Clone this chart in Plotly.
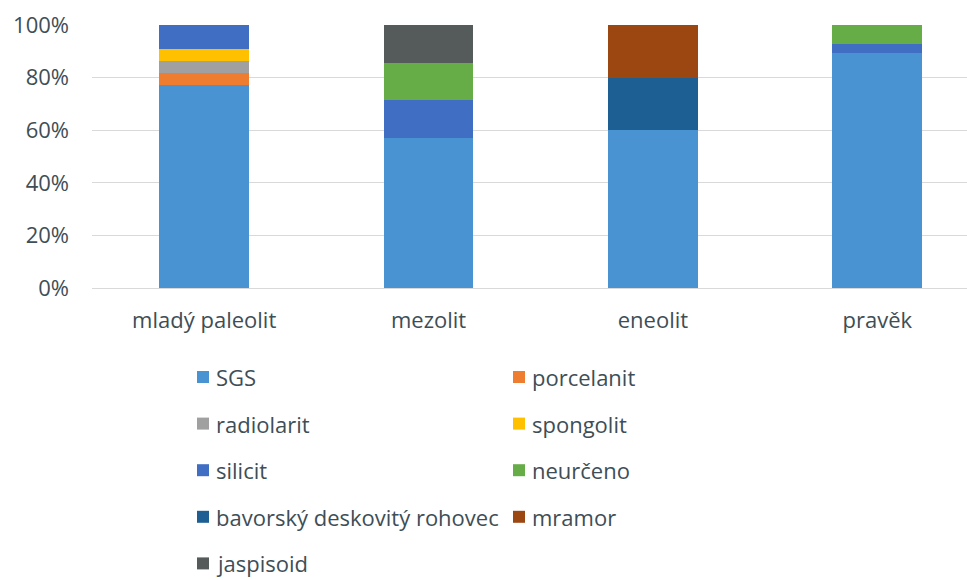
import plotly.graph_objects as go

# Stacked shares of raw-material groups per period
periods = ["mladý paleolit", "mezolit", "eneolit", "pravěk"]

series_names = [
    "SGS", "porcelanit", "radiolarit", "spongolit", "silicit",
    "neurčeno", "bavorský deskovitý rohovec", "mramor", "jaspisoid",
]

# values as fractions of each period's total
sgs = [0.773, 0.571, 0.60, 0.893]
porcelanit = [0.045, 0.0, 0.0, 0.0]
radiolarit = [0.045, 0.0, 0.0, 0.0]
spongolit = [0.045, 0.0, 0.0, 0.0]
silicit = [0.092, 0.143, 0.0, 0.036]
neurceno = [0.0, 0.143, 0.0, 0.071]
bavorsky = [0.0, 0.0, 0.20, 0.0]
mramor = [0.0, 0.0, 0.20, 0.0]
jaspisoid = [0.0, 0.143, 0.0, 0.0]

series_values = [sgs, porcelanit, radiolarit, spongolit, silicit,
                 neurceno, bavorsky, mramor, jaspisoid]

colors = ["#4a93d3", "#ee7d2f", "#a0a0a0", "#ffc000", "#3f6ec2",
          "#66ad48", "#1d5e93", "#9c4712", "#555b5b"]

y_ticks = [0, 0.2, 0.4, 0.6, 0.8, 1.0]
y_tick_labels = ["0%", "20%", "40%", "60%", "80%", "100%"]

W, H = 967, 580
ML, MR, MT, MB = 92, 0, 25, 292
PW, PH = W - ML - MR, H - MT - MB
TEXT = "#3e4e56"
FONT = "Open Sans"
FS = 22
WEIGHT = 500

fig = go.Figure()
for name, vals, col in zip(series_names, series_values, colors):
    fig.add_trace(go.Bar(
        x=periods, y=vals, name=name, marker_color=col,
        marker_line_width=0, showlegend=False,
    ))


def px_x(px):
    return (px - ML) / PW


def px_y(py):
    return (H - MB - py) / PH


# two-column legend below the plot
shapes = []
annotations = []
sq = 12
for i, (name, col) in enumerate(zip(series_names, colors)):
    c, r = i % 2, i // 2
    x0 = 197 + c * 316
    yc = 377 + r * 46.6
    shapes.append(dict(
        type="rect", xref="paper", yref="paper",
        x0=px_x(x0), x1=px_x(x0 + sq),
        y0=px_y(yc + sq / 2), y1=px_y(yc - sq / 2),
        fillcolor=col, line_width=0,
    ))
    annotations.append(dict(
        xref="paper", yref="paper", x=px_x(x0 + sq + 6), y=px_y(yc),
        xanchor="left", yanchor="middle", text=name, showarrow=False,
        borderpad=0,
        font=dict(family=FONT, size=FS, color=TEXT, weight=WEIGHT),
    ))

fig.update_layout(
    width=W, height=H,
    margin=dict(l=ML, r=MR, t=MT, b=MB),
    barmode="stack", bargap=0.6,
    plot_bgcolor="white", paper_bgcolor="white",
    font=dict(family=FONT, size=FS, color=TEXT, weight=WEIGHT),
    shapes=shapes, annotations=annotations,
    xaxis=dict(
        range=[-0.5, 3.4], showgrid=False, showline=False,
        ticks="", tickfont=dict(size=FS, color=TEXT, weight=WEIGHT),
        ticklabelstandoff=17, fixedrange=True,
    ),
    yaxis=dict(
        range=[0, 1], tickvals=y_ticks, ticktext=y_tick_labels,
        showgrid=True, gridcolor="#d9d9d9", gridwidth=1,
        zeroline=True, zerolinecolor="#d9d9d9", zerolinewidth=1,
        showline=False, ticks="", tickfont=dict(size=FS, color=TEXT, weight=WEIGHT),
        ticklabelstandoff=22, fixedrange=True,
    ),
)

fig.write_html("out.html")
